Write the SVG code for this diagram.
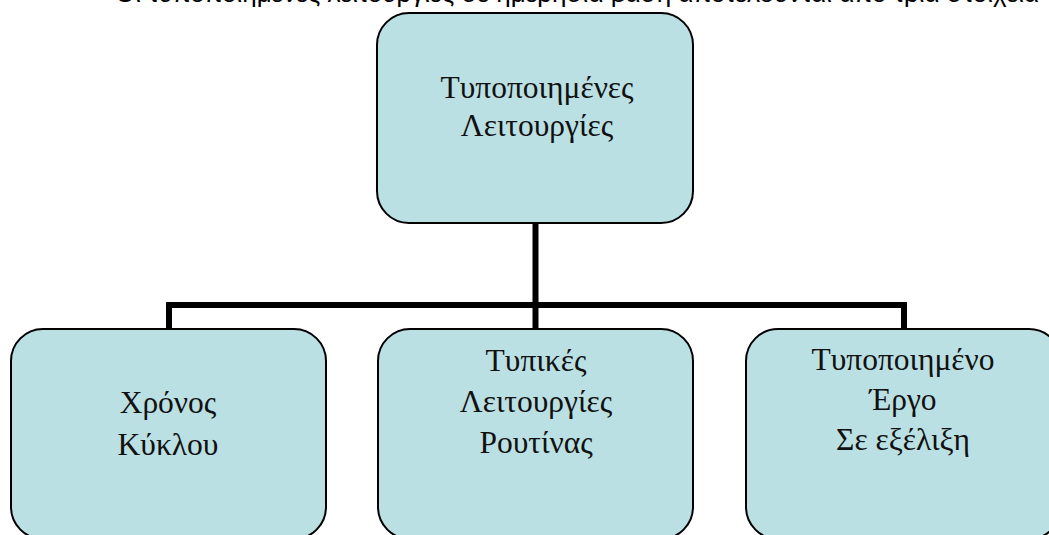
<svg xmlns="http://www.w3.org/2000/svg" width="1049" height="535" viewBox="0 0 1049 535">
  <style>
    .box { fill: #BBE0E3; stroke: #000000; stroke-width: 2; }
    .label { font-family: "Liberation Serif", "Times New Roman", serif; font-size: 31.5px; fill: #111111; text-anchor: middle; }
    .caption { font-family: "Liberation Sans", Arial, sans-serif; font-size: 26px; fill: #000000; }
    .link { fill: none; stroke: #000000; stroke-width: 6; stroke-linecap: square; stroke-linejoin: miter; }
  </style>
  <rect width="1049" height="535" fill="#FFFFFF"/>

  <!-- running caption line, cut by the top margin -->
  <text class="caption" x="115" y="2">Οι τυποποιημένες λειτουργίες σε ημερήσια βάση αποτελούνται από τρία στοιχεία</text>

  <!-- tree connectors -->
  <g id="connectors">
    <path class="link" d="M535.5 223 V305"/>
    <path class="link" d="M169 328 V305 H904 V328"/>
    <path class="link" d="M535.5 305 V328"/>
  </g>

  <g id="node-root">
    <rect class="box" x="377" y="13" width="316" height="210" rx="32" ry="32"/>
    <text class="label" x="537" y="98">Τυποποιημένες</text>
    <text class="label" x="537" y="136">Λειτουργίες</text>
  </g>

  <g id="node-cycle-time">
    <rect class="box" x="11" y="329" width="315" height="210" rx="32" ry="32"/>
    <text class="label" x="168" y="413">Χρόνος</text>
    <text class="label" x="168" y="455">Κύκλου</text>
  </g>

  <g id="node-routine">
    <rect class="box" x="378" y="329" width="315" height="210" rx="32" ry="32"/>
    <text class="label" x="536" y="371">Τυπικές</text>
    <text class="label" x="536" y="412">Λειτουργίες</text>
    <text class="label" x="536" y="453">Ρουτίνας</text>
  </g>

  <g id="node-wip">
    <rect class="box" x="746" y="329" width="315" height="210" rx="32" ry="32"/>
    <text class="label" x="903" y="370">Τυποποιημένο</text>
    <text class="label" x="903" y="410">Έργο</text>
    <text class="label" x="903" y="450">Σε εξέλιξη</text>
  </g>
</svg>
